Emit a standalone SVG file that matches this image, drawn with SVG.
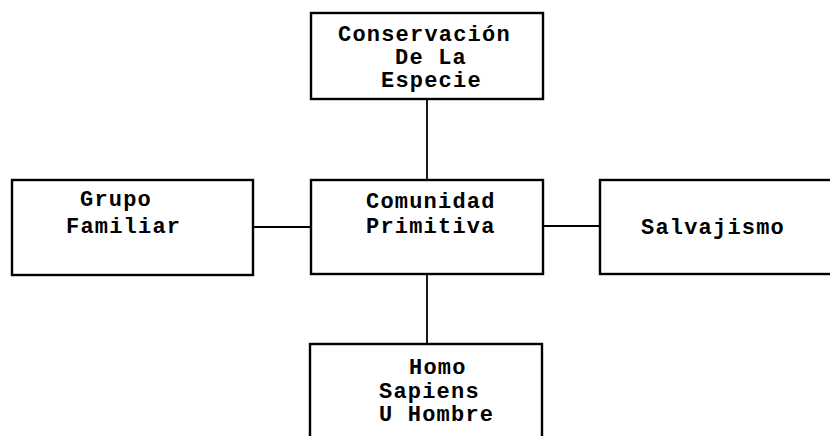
<svg xmlns="http://www.w3.org/2000/svg" width="830" height="436" viewBox="0 0 830 436">
  <style>
    .box { fill: #ffffff; stroke: #000000; stroke-width: 2.4; }
    .link { fill: none; stroke: #000000; stroke-width: 1.8; }
    .label { font-family: "Liberation Mono", "Courier New", monospace; font-size: 22px; font-weight: bold; letter-spacing: 1.2px; fill: #000000; }
  </style>
  <rect width="830" height="436" fill="#ffffff"/>

  <!-- connectors between the central node and its neighbours -->
  <g id="connectors">
    <line class="link" x1="427" y1="99" x2="427" y2="180"/>
    <line class="link" x1="253" y1="227" x2="311" y2="227"/>
    <line class="link" x1="543" y1="226" x2="600" y2="226"/>
    <line class="link" x1="427" y1="274" x2="427" y2="344"/>
  </g>

  <g id="conservacion">
    <rect class="box" x="311" y="13" width="232" height="86"/>
    <text class="label" x="338" y="41">Conservación</text>
    <text class="label" x="395" y="64">De La</text>
    <text class="label" x="381" y="87">Especie</text>
  </g>

  <g id="grupo-familiar">
    <rect class="box" x="12" y="180" width="241" height="95"/>
    <text class="label" x="80" y="206">Grupo</text>
    <text class="label" x="66" y="233">Familiar</text>
  </g>

  <g id="comunidad-primitiva">
    <rect class="box" x="311" y="180" width="232" height="94"/>
    <text class="label" x="366" y="208">Comunidad</text>
    <text class="label" x="366" y="233">Primitiva</text>
  </g>

  <g id="salvajismo">
    <rect class="box" x="600" y="180" width="240" height="94"/>
    <text class="label" x="641" y="234">Salvajismo</text>
  </g>

  <g id="homo-sapiens">
    <rect class="box" x="310" y="344" width="232" height="120"/>
    <text class="label" x="409" y="374">Homo</text>
    <text class="label" x="379" y="398">Sapiens</text>
    <text class="label" x="379" y="421">U Hombre</text>
  </g>
</svg>
